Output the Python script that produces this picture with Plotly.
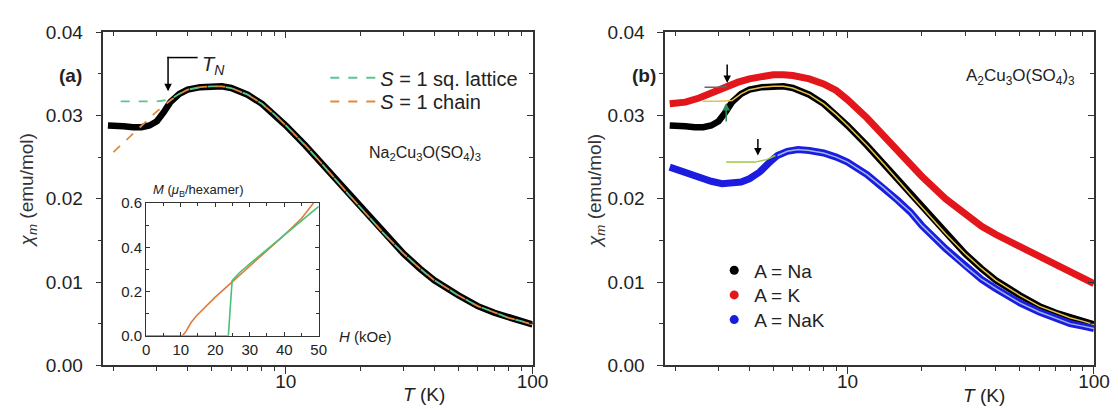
import numpy as np
import plotly.graph_objects as go

W, H = 1118, 410
FONT = "Liberation Sans"

# ---------------- data ----------------
# A = Na (black), chi_m in emu/mol vs T in K
T_na = [1.9, 2.0, 2.2, 2.4, 2.6, 2.8, 3.0, 3.2, 3.4, 3.7, 4.0, 4.5, 5.0, 5.5, 6.0, 7.0, 8.0, 9.0,
        10, 12, 14, 16, 18, 20, 25, 30, 35, 40, 50, 60, 70, 80, 90, 100]
chi_na = [0.0288, 0.0288, 0.0287, 0.0286, 0.0286, 0.0288, 0.0293, 0.0304, 0.0316, 0.0326, 0.0331,
          0.0334, 0.0335, 0.0335, 0.0333, 0.0325, 0.0314, 0.0301, 0.0288, 0.0264, 0.0242, 0.0222,
          0.0205, 0.0190, 0.0158, 0.0134, 0.0116, 0.0102, 0.0084, 0.0071, 0.0063, 0.0057, 0.0053, 0.0049]

# A = K (red)
T_k = [1.9, 2.2, 2.5, 2.8, 3.2, 3.6, 4.0, 4.5, 5.0, 5.5, 6.0, 7.0, 8.0, 9.0,
       10, 12, 14, 16, 18, 20, 25, 30, 35, 40, 50, 60, 70, 80, 90, 100]
chi_k = [0.0314, 0.0316, 0.0321, 0.0327, 0.0335, 0.0340, 0.0344, 0.0347, 0.0349, 0.0349, 0.0348,
         0.0344, 0.0338, 0.0330, 0.0319, 0.0297, 0.0276, 0.0257, 0.0241, 0.0227, 0.0200, 0.0181,
         0.0167, 0.0157, 0.0143, 0.0131, 0.0121, 0.0112, 0.0105, 0.0098]

# A = NaK (blue)
T_nak = [1.9, 2.2, 2.5, 2.8, 3.1, 3.4, 3.7, 4.0, 4.4, 4.8, 5.2, 5.7, 6.3, 7.0, 8.0, 9.0,
         10, 12, 14, 16, 18, 20, 25, 30, 35, 40, 50, 60, 70, 80, 90, 100]
chi_nak = [0.0238, 0.0231, 0.0225, 0.0221, 0.0218, 0.0218, 0.0220, 0.0224, 0.0232, 0.0243, 0.0252,
           0.0257, 0.0259, 0.0258, 0.0255, 0.0250, 0.0244, 0.0229, 0.0213, 0.0198, 0.0184, 0.0168,
           0.0140, 0.0119, 0.0103, 0.0092, 0.0075, 0.0064, 0.0056, 0.0050, 0.0047, 0.0044]

# model fits, low-temperature parts (high-T parts follow the data)
T_sq_low = [2.14, 3.0, 3.4]
chi_sq_low = [0.0317, 0.0317, 0.0319]
T_chain_low = [2.0, 2.5, 3.0, 3.4]
chi_chain_low = [0.0256, 0.0283, 0.0305, 0.0318]
T_fit_na_low = [2.58, 3.0, 3.4]
chi_fit_na_low = [0.0317, 0.0317, 0.0318]
T_fit_k_low = [2.63, 3.0, 3.25]
chi_fit_k_low = [0.0334, 0.0334, 0.0335]
T_fit_nak_low = [3.22, 4.2, 4.7, 5.1]
chi_fit_nak_low = [0.0244, 0.0244, 0.0247, 0.0252]

# inset: magnetization M (mu_B/hexamer) vs H (kOe)
H_chain = [0, 10.5, 11.5, 13, 14.5, 17, 20, 25, 30, 35, 40, 45, 48.5]
M_chain = [0, 0, 0.02, 0.06, 0.09, 0.13, 0.175, 0.245, 0.315, 0.385, 0.455, 0.53, 0.60]
H_sq = [0, 23.8, 24.9, 27, 30, 35, 40, 45, 50]
M_sq = [0, 0, 0.25, 0.285, 0.325, 0.39, 0.455, 0.52, 0.585]

# transition temperatures (arrows) and arrow-tip susceptibilities
TN_na, chi_arrow_na = 3.33, 0.0329
TN_k, chi_arrow_k = 3.25, 0.0339
TN_nak, chi_arrow_nak = 4.33, 0.0252
T_green_arrow, chi_green_arrow = 3.22, 0.0315

x_major = [10, 100]
x_major_text = ["10", "100"]
x_minor = [2, 3, 4, 5, 6, 7, 8, 9, 20, 30, 40, 50, 60, 70, 80, 90]
y_major = [0, 0.01, 0.02, 0.03, 0.04]
y_major_text = ["0.00", "0.01", "0.02", "0.03", "0.04"]
inset_x_ticks = [0, 10, 20, 30, 40, 50]
inset_y_ticks = [0, 0.2, 0.4, 0.6]
inset_y_text = ["0.0", "0.2", "0.4", "0.6"]

# colours
C_GREEN_D = "#5cc592"
C_ORANGE_D = "#e2893c"
C_RED = "#e3161b"
C_BLUE = "#1c1ce0"
C_YELLOW = "#e6c24a"
C_LBLUE = "#9ab8e6"
C_GREENYEL = "#9ccb3c"
C_GRAY = "#6e6464"
C_INS_GREEN = "#4cbf78"
C_INS_ORANGE = "#e07b39"


def tail(T, chi, tmin):
    return [t for t in T if t >= tmin], [c for t, c in zip(T, chi) if t >= tmin]


def px(x):
    return x / W


def py(y):
    return 1 - y / H


fig = go.Figure()

# ---------------- panel (a) ----------------
fig.add_trace(go.Scatter(x=T_na, y=chi_na, mode="lines", line=dict(color="black", width=6.5),
                         showlegend=False, xaxis="x", yaxis="y"))
tT, tc = tail(T_na, chi_na, 3.7)
fig.add_trace(go.Scatter(x=T_sq_low + tT, y=chi_sq_low + tc, mode="lines",
                         line=dict(color=C_GREEN_D, width=1.8, dash="dash"),
                         name="<i>S</i> = 1 sq. lattice", legend="legend", xaxis="x", yaxis="y"))
fig.add_trace(go.Scatter(x=T_chain_low + tT, y=chi_chain_low + tc, mode="lines",
                         line=dict(color=C_ORANGE_D, width=1.8, dash="dash"),
                         name="<i>S</i> = 1 chain", legend="legend3", xaxis="x", yaxis="y"))

# inset
fig.add_trace(go.Scatter(x=H_chain, y=M_chain, mode="lines", line=dict(color=C_INS_ORANGE, width=1.6),
                         showlegend=False, xaxis="x5", yaxis="y5"))
fig.add_trace(go.Scatter(x=H_sq, y=M_sq, mode="lines", line=dict(color=C_INS_GREEN, width=1.6),
                         showlegend=False, xaxis="x5", yaxis="y5"))

# ---------------- panel (b) ----------------
fig.add_trace(go.Scatter(x=T_k, y=chi_k, mode="lines", line=dict(color=C_RED, width=7),
                         showlegend=False, xaxis="x2", yaxis="y2"))
fig.add_trace(go.Scatter(x=T_na, y=chi_na, mode="lines", line=dict(color="black", width=6.5),
                         showlegend=False, xaxis="x2", yaxis="y2"))
fig.add_trace(go.Scatter(x=T_nak, y=chi_nak, mode="lines", line=dict(color=C_BLUE, width=7),
                         showlegend=False, xaxis="x2", yaxis="y2"))
fig.add_trace(go.Scatter(x=T_fit_k_low, y=chi_fit_k_low, mode="lines",
                         line=dict(color=C_GRAY, width=1.5), showlegend=False, xaxis="x2", yaxis="y2"))
ty, cy = tail(T_na, chi_na, 3.7)
fig.add_trace(go.Scatter(x=T_fit_na_low + ty, y=chi_fit_na_low + cy, mode="lines",
                         line=dict(color=C_YELLOW, width=1.5), showlegend=False, xaxis="x2", yaxis="y2"))
bT, bc = tail(T_nak, chi_nak, 5.2)
fig.add_trace(go.Scatter(x=T_fit_nak_low, y=chi_fit_nak_low, mode="lines",
                         line=dict(color=C_GREENYEL, width=1.5), showlegend=False, xaxis="x2", yaxis="y2"))
fig.add_trace(go.Scatter(x=bT, y=bc, mode="lines", line=dict(color=C_LBLUE, width=1.5),
                         showlegend=False, xaxis="x2", yaxis="y2"))

# legend entries for panel (b)
for nm, col, lg in [("A = Na", "black", "legend2"), ("A = K", C_RED, "legend4"),
                    ("A = NaK", C_BLUE, "legend5")]:
    fig.add_trace(go.Scatter(x=[None], y=[None], mode="markers", marker=dict(color=col, size=9),
                             name=nm, legend=lg, xaxis="x2", yaxis="y2"))

# empty traces for the mirrored (top/right) tick axes
fig.add_trace(go.Scatter(x=[], y=[], showlegend=False, xaxis="x3", yaxis="y3"))
fig.add_trace(go.Scatter(x=[], y=[], showlegend=False, xaxis="x4", yaxis="y4"))

# ---------------- axes ----------------
XR = [np.log10(1.82), 2]
dom_a = [px(93), px(530)]
dom_b = [px(665), px(1101.7)]
dom_y = [py(366), py(15)]
tickfont = dict(family=FONT, size=19, color="#222")
AX = "#333"


def xmain(dom, anchor):
    return dict(type="log", range=XR, domain=dom, anchor=anchor, tickvals=x_major, ticktext=x_major_text,
                ticks="outside", ticklen=7, tickwidth=1.2, tickcolor=AX, showline=True, linecolor=AX,
                linewidth=1.5, mirror=True, showgrid=False, zeroline=False, tickfont=tickfont,
                ticklabelstandoff=-9,
                minor=dict(tickvals=x_minor, ticks="outside", ticklen=4, tickwidth=1, tickcolor=AX,
                           showgrid=False))


def ymain(anchor):
    return dict(range=[0, 0.04], domain=dom_y, anchor=anchor, tickvals=y_major, ticktext=y_major_text,
                ticks="outside", ticklen=6, tickwidth=1.2, tickcolor=AX, showline=True, linecolor=AX,
                linewidth=1.5, mirror=True, showgrid=False, zeroline=False, tickfont=tickfont,
                ticklabelstandoff=9,
                minor=dict(dtick=0.005, tick0=0, ticks="outside", ticklen=4, tickwidth=1, tickcolor=AX,
                           showgrid=False))


def xtop(over, anchor):
    return dict(type="log", range=XR, overlaying=over, side="top", anchor=anchor, tickvals=x_major,
                showticklabels=False, ticks="inside", ticklen=6, tickwidth=1.2, tickcolor=AX,
                showline=False, showgrid=False, zeroline=False,
                minor=dict(tickvals=x_minor, ticks="inside", ticklen=4, tickwidth=1, tickcolor=AX,
                           showgrid=False))


def yright(over, anchor):
    return dict(range=[0, 0.04], overlaying=over, side="right", anchor=anchor, tickvals=y_major,
                showticklabels=False, ticks="inside", ticklen=6, tickwidth=1.2, tickcolor=AX,
                showline=False, showgrid=False, zeroline=False,
                minor=dict(dtick=0.005, tick0=0, ticks="inside", ticklen=4, tickwidth=1, tickcolor=AX,
                           showgrid=False))


inset_font = dict(family=FONT, size=15, color="#222")


def leg(x, y, size, itemwidth=30):
    return dict(x=px(x), y=py(y), xanchor="left", yanchor="middle", bgcolor="rgba(0,0,0,0)",
                borderwidth=0, itemwidth=itemwidth, font=dict(family=FONT, size=size, color="#222"))


fig.update_layout(
    width=W, height=H, margin=dict(l=0, r=0, t=0, b=0),
    paper_bgcolor="white", plot_bgcolor="white",
    font=dict(family=FONT, color="#222"),
    xaxis=xmain(dom_a, "y"), yaxis=ymain("x"),
    xaxis2=xmain(dom_b, "y2"), yaxis2=ymain("x2"),
    xaxis3=xtop("x", "y3"), yaxis3=yright("y", "x3"),
    xaxis4=xtop("x2", "y4"), yaxis4=yright("y2", "x4"),
    xaxis5=dict(range=[0, 50], domain=[px(136.7), px(312.3)], anchor="y5", tickvals=inset_x_ticks,
                ticks="inside", ticklen=4, tickcolor=AX, showline=True, linecolor=AX, linewidth=1.2,
                mirror="allticks", showgrid=False, zeroline=False, tickfont=inset_font,
                minor=dict(dtick=5, ticks="inside", ticklen=3, tickcolor=AX)),
    yaxis5=dict(range=[0, 0.6], domain=[py(335), py(195)], anchor="x5", tickvals=inset_y_ticks,
                ticktext=inset_y_text, ticks="inside", ticklen=4, tickcolor=AX, showline=True,
                linecolor=AX, linewidth=1.2, mirror="allticks", showgrid=False, zeroline=False,
                tickfont=inset_font, minor=dict(dtick=0.1, ticks="inside", ticklen=3, tickcolor=AX)),
    legend=leg(319, 63, 20, 45),
    legend3=leg(319, 88, 20, 45),
    legend2=leg(715, 266, 19),
    legend4=leg(715, 292, 19),
    legend5=leg(715, 318, 19),
)

# ---------------- annotations ----------------
ann = []


def txt(text, x, y, size=17, xanchor="center", yanchor="middle", angle=0, color="#222"):
    ann.append(dict(text=text, x=px(x), y=py(y), xref="paper", yref="paper", showarrow=False,
                    xanchor=xanchor, yanchor=yanchor, textangle=angle,
                    font=dict(family=FONT, size=size, color=color)))


txt("<b>(a)</b>", 60, 61, 19)
txt("<b>(b)</b>", 644, 61, 19)
txt("<i>T<sub>N</sub></i>", 191, 50, 20, xanchor="left")
txt("Na<sub>2</sub>Cu<sub>3</sub>O(SO<sub>4</sub>)<sub>3</sub>", 421, 143, 16)
txt("A<sub>2</sub>Cu<sub>3</sub>O(SO<sub>4</sub>)<sub>3</sub>", 1027, 62, 17)
txt("<i>χ<sub>m</sub></i> (emu/mol)", 16, 182, 19, angle=-90, color="#333")
txt("<i>χ<sub>m</sub></i> (emu/mol)", 594, 182, 19, angle=-90, color="#333")
txt("<i>T</i> (K)", 419, 397, 19)
txt("<i>T</i> (K)", 990, 398, 19)
txt("<i>M</i> (<i>μ</i><sub>B</sub>/hexamer)", 190, 182, 13)
txt("<i>H</i> (kOe)", 331, 336, 15, xanchor="left")


def arrow(T, chi, xax, yax, ay, color="black"):
    ann.append(dict(x=np.log10(T), y=chi, xref=xax, yref=yax, ax=0, ay=ay, showarrow=True,
                    arrowhead=2, arrowsize=1.0, arrowwidth=1.5, arrowcolor=color, text=""))


arrow(TN_na, chi_arrow_na, "x", "y", -36)
arrow(TN_k, chi_arrow_k, "x2", "y2", -20)
arrow(TN_nak, chi_arrow_nak, "x2", "y2", -18)
arrow(T_green_arrow, chi_green_arrow, "x2", "y2", 20, color="#2e8b57")
fig.update_layout(annotations=ann)

# horizontal leader of the T_N label
fig.add_shape(type="line", xref="paper", yref="paper", x0=px(158.3), x1=px(189), y0=py(41.7), y1=py(41.7),
              line=dict(color="black", width=1.5))

fig.write_html("out.html")
